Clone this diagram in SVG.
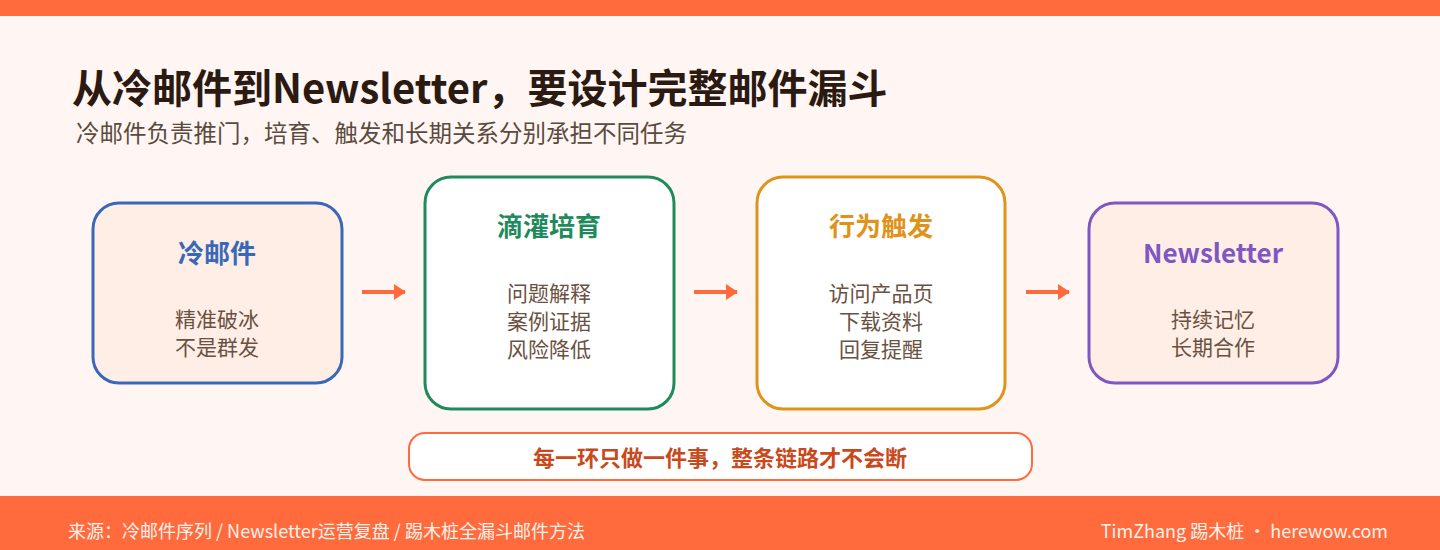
<svg xmlns="http://www.w3.org/2000/svg" width="1440" height="550" viewBox="0 0 1440 550">
<style>
text{font-family:"Noto Sans CJK SC","Noto Sans",sans-serif;text-anchor:middle}
.box{stroke-width:3}
.h{font-size:26px;font-weight:700}
.b{font-size:21px;fill:#6A5142}
.arr{stroke:#FF6B3D;stroke-width:4}
</style>
<defs><marker id="ah" markerWidth="12" markerHeight="16" refX="11" refY="8" orient="auto" markerUnits="userSpaceOnUse"><path d="M0,0L12,8L0,16Z" fill="#FF6B3D"/></marker></defs>
<rect width="1440" height="550" fill="#FFF6F3"/>
<rect width="1440" height="16" fill="#FF6B3D"/>
<text x="72" y="103" style="text-anchor:start;font-size:40px;font-weight:700" fill="#2B1A12">从冷邮件到Newsletter，要设计完整邮件漏斗</text>
<text x="76" y="142" style="text-anchor:start;font-size:23.5px" fill="#5A4A40">冷邮件负责推门，培育、触发和长期关系分别承担不同任务</text>
<g id="n1"><rect class="box" x="93" y="203" width="249" height="180" rx="26" fill="#FFEEE6" stroke="#3A68B8"/><text class="h" x="217" y="263" fill="#3A68B8">冷邮件</text><text class="b" x="217" y="327">精准破冰</text><text class="b" x="217" y="355">不是群发</text></g>
<g id="n2"><rect class="box" x="425" y="177" width="249" height="232" rx="26" fill="#FFFFFF" stroke="#1F8A5B"/><text class="h" x="549" y="236" fill="#1F8A5B">滴灌培育</text><text class="b" x="549" y="301">问题解释</text><text class="b" x="549" y="329">案例证据</text><text class="b" x="549" y="357">风险降低</text></g>
<g id="n3"><rect class="box" x="757" y="177" width="248" height="232" rx="26" fill="#FFFFFF" stroke="#E0931A"/><text class="h" x="881" y="236" fill="#E0931A">行为触发</text><text class="b" x="881" y="301">访问产品页</text><text class="b" x="881" y="329">下载资料</text><text class="b" x="881" y="357">回复提醒</text></g>
<g id="n4"><rect class="box" x="1089" y="203" width="249" height="180" rx="26" fill="#FFEEE6" stroke="#7E57C2"/><text class="h" x="1213" y="263" fill="#7E57C2">Newsletter</text><text class="b" x="1213" y="327">持续记忆</text><text class="b" x="1213" y="355">长期合作</text></g>
<g id="connectors"><line class="arr" x1="362" y1="292" x2="405" y2="292" marker-end="url(#ah)"/><line class="arr" x1="694" y1="292" x2="737" y2="292" marker-end="url(#ah)"/><line class="arr" x1="1026" y1="292" x2="1069" y2="292" marker-end="url(#ah)"/></g>
<g id="note"><rect x="409" y="433" width="623" height="47" rx="16" fill="#FFFFFF" stroke="#FF6B3D" stroke-width="2"/><text x="720" y="466" style="font-size:22px;font-weight:700" fill="#C84A1C">每一环只做一件事，整条链路才不会断</text></g>
<rect y="496" width="1440" height="54" fill="#FF6B3D"/>
<text x="68" y="538" style="text-anchor:start;font-size:18px" fill="#FFF1EA">来源：冷邮件序列 / Newsletter运营复盘 / 踢木桩全漏斗邮件方法</text>
<text x="1388" y="538" style="text-anchor:end;font-size:18px" fill="#FFF1EA">TimZhang 踢木桩 · herewow.com</text>
</svg>
